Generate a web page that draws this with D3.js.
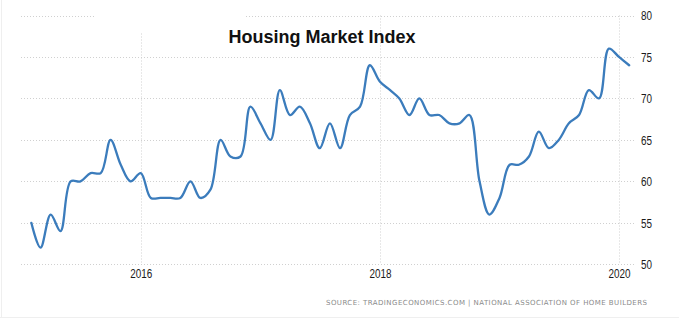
<!DOCTYPE html>
<html>
<head>
<meta charset="utf-8">
<script src="https://cdn.jsdelivr.net/npm/d3@7"></script>
<style>
  html, body { margin: 0; padding: 0; background: #ffffff; }
  svg { display: block; }
  .tick-label { font-family: "Liberation Sans", Arial, sans-serif; font-size: 12px; fill: #1a1a1a; }
</style>
</head>
<body>
<svg id="chart" width="679" height="324"></svg>
<script>
// NAHB Housing Market Index, monthly, Feb 2015 – Feb 2020
const startMonth = "2015-02";
const hmiValues = [
  55, 52, 56, 54, 60, 60, 61, 61, 65, 62, 60,          // 2015 Feb–Dec
  61, 58, 58, 58, 58, 60, 58, 59, 65, 63, 63, 69,      // 2016
  67, 65, 71, 68, 69, 67, 64, 67, 64, 68, 69, 74,      // 2017
  72, 71, 70, 68, 70, 68, 68, 67, 67, 68, 60, 56,      // 2018
  58, 62, 62, 63, 66, 64, 65, 67, 68, 71, 70, 76,      // 2019
  75, 74                                               // 2020 Jan–Feb
];
const yTicks = [50, 55, 60, 65, 70, 75, 80];
const xTickYears = [2016, 2018, 2020];
const titleText = "Housing Market Index";
const sourceText = "SOURCE: TRADINGECONOMICS.COM  |  NATIONAL ASSOCIATION OF HOME BUILDERS";

const parseMonth = d3.timeParse("%Y-%m");
const firstDate = parseMonth(startMonth);
const series = hmiValues.map((v, i) => ({ date: d3.timeMonth.offset(firstDate, i), value: v }));

const svg = d3.select("#chart");

// card outline
svg.append("line").attr("x1", 1.5).attr("x2", 1.5).attr("y1", 0).attr("y2", 317.5)
  .attr("stroke", "#efefef").attr("stroke-width", 1);
svg.append("line").attr("x1", 0).attr("x2", 679).attr("y1", 317.5).attr("y2", 317.5)
  .attr("stroke", "#efefef").attr("stroke-width", 1);

const x = d3.scaleTime()
  .domain([series[0].date, series[series.length - 1].date])
  .range([31.35, 629.15]);
const y = d3.scaleLinear().domain([50, 80]).range([264.3, 15.5]);

const gridLeft = 21, gridRight = 635;
const grid = svg.append("g").attr("class", "grid");

// horizontal grid
grid.selectAll("line.h").data(yTicks).join("line")
  .attr("class", "h")
  .attr("x1", gridLeft).attr("x2", gridRight)
  .attr("y1", d => Math.round(y(d)) + 0.5).attr("y2", d => Math.round(y(d)) + 0.5)
  .attr("stroke", "#d0d0d0").attr("stroke-width", 1).attr("stroke-dasharray", "1,2");

// vertical grid at year ticks
const yearDates = xTickYears.map(yr => new Date(yr, 0, 1));
grid.selectAll("line.v").data(yearDates).join("line")
  .attr("class", "v")
  .attr("x1", d => Math.round(x(d)) + 0.5).attr("x2", d => Math.round(x(d)) + 0.5)
  .attr("y1", y(80)).attr("y2", y(50))
  .attr("stroke", "#d0d0d0").attr("stroke-width", 1).attr("stroke-dasharray", "1,2");

// blank panel in the upper-left of the plot area
svg.append("rect").attr("x", 95).attr("y", 8).attr("width", 150).attr("height", 25).attr("fill", "#ffffff");

// narrow-set tick labels: compress glyphs to a condensed width
const narrow = sel => sel
  .attr("textLength", function () { return this.textContent.length * 5.5; })
  .attr("lengthAdjust", "spacingAndGlyphs");

// y axis labels on the right
const yAxis = d3.axisRight(y).tickValues(yTicks).tickSize(0).tickPadding(0).tickFormat(d3.format("d"));
const yAxisG = svg.append("g").attr("transform", "translate(641,0)").call(yAxis);
yAxisG.select(".domain").remove();
yAxisG.selectAll("text").attr("class", "tick-label").attr("dy", "0.36em").call(narrow);

// x axis labels
const xAxis = d3.axisBottom(x).tickValues(yearDates).tickSize(0).tickPadding(0).tickFormat(d3.timeFormat("%Y"));
const xAxisG = svg.append("g").attr("transform", "translate(0,269)").call(xAxis);
xAxisG.select(".domain").remove();
xAxisG.selectAll("text").attr("class", "tick-label").attr("dy", "0.71em")
  .style("font-size", "12.5px").call(narrow);

// title
svg.append("text")
  .attr("x", 322).attr("y", 42.5)
  .attr("text-anchor", "middle")
  .attr("font-family", "'Liberation Sans', Arial, sans-serif")
  .attr("font-weight", "bold").attr("font-size", 18)
  .attr("fill", "#111111")
  .text(titleText);

// series line
const line = d3.line()
  .x(d => x(d.date))
  .y(d => y(d.value))
  .curve(d3.curveCatmullRom.alpha(0.5));

svg.append("path")
  .datum(series)
  .attr("fill", "none")
  .attr("stroke", "#3b7cbc")
  .attr("stroke-width", 2.3)
  .attr("stroke-linejoin", "round")
  .attr("stroke-linecap", "round")
  .attr("d", line);

// source note
svg.append("text")
  .attr("x", 326).attr("y", 305)
  .attr("font-family", "'DejaVu Sans', 'Liberation Sans', sans-serif")
  .attr("font-size", 7)
  .attr("fill", "#8a8a8a")
  .attr("textLength", 321).attr("lengthAdjust", "spacing")
  .text(sourceText);
</script>
</body>
</html>
